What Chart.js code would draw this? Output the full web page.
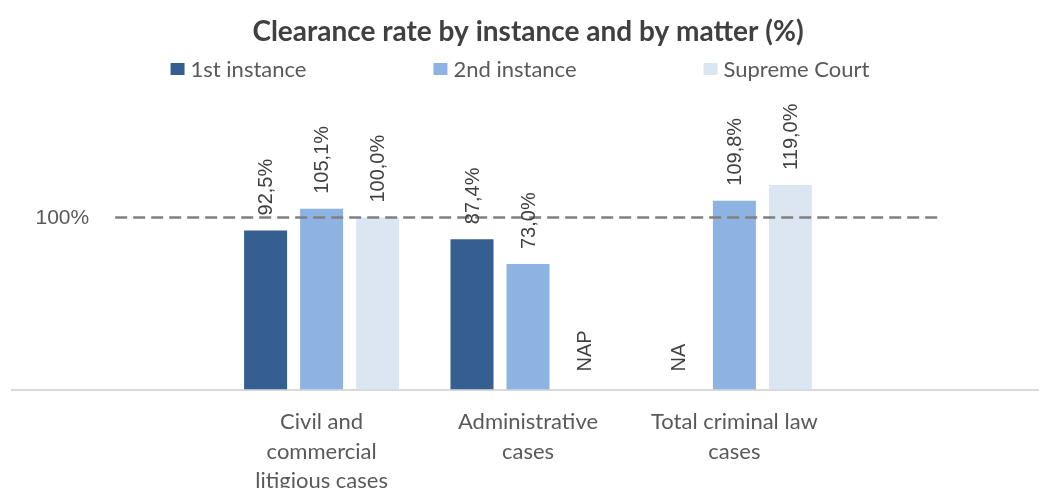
<!DOCTYPE html>
<html>
<head>
<meta charset="utf-8">
<script src="https://cdn.jsdelivr.net/npm/chart.js@4"></script>
<style>
  html, body { margin: 0; padding: 0; background: #ffffff; overflow: hidden; }
  #wrap { width: 1046px; height: 514px; position: relative; }
</style>
</head>
<body>
<div id="wrap"><canvas id="c"></canvas></div>
<script>
// ---- data ----
const categories = ['', ['Civil and', 'commercial', 'litigious cases'], ['Administrative', 'cases'], ['Total criminal law', 'cases'], ''];
const seriesNames = ['1st instance', '2nd instance', 'Supreme Court'];
const firstInstance = [null, 92.5, 87.4, null, null];
const secondInstance = [null, 105.1, 73.0, 109.8, null];
const supremeCourt = [null, 100.0, null, 119.0, null];
const firstInstanceNotes = ['', '', '', 'NA', ''];
const secondInstanceNotes = ['', '', '', '', ''];
const supremeCourtNotes = ['', '', 'NAP', '', ''];
const benchmark = [100, 100, 100, 100, 100];
const benchmarkLabel = '100%';
const titleText = 'Clearance rate by instance and by matter (%)';

const fmt = v => v.toFixed(1).replace('.', ',') + '%';

const labelPlugin = {
  id: 'barLabels',
  afterDatasetsDraw(chart) {
    const ctx = chart.ctx;
    const yScale = chart.scales.y;
    const base = yScale.getPixelForValue(0);
    ctx.save();
    chart.data.datasets.forEach((ds, di) => {
      const meta = chart.getDatasetMeta(di);
      if (ds.type === 'line') {
        const p = meta.data[0];
        ctx.font = '21px "Liberation Sans"';
        ctx.fillStyle = '#595959';
        ctx.textAlign = 'right';
        ctx.textBaseline = 'middle';
        ctx.fillText(benchmarkLabel, p.x - 26, p.y + 1);
        return;
      }
      meta.data.forEach((el, i) => {
        const v = ds.data[i];
        let text, y;
        if (v === null || v === undefined) {
          text = ds.notes ? ds.notes[i] : '';
          y = base - 18;
        } else {
          text = fmt(v);
          y = el.y - 15;
        }
        if (!text) return;
        ctx.save();
        ctx.translate(el.x, y);
        ctx.rotate(-Math.PI / 2);
        ctx.font = '20px "Liberation Sans"';
        ctx.fillStyle = '#404040';
        ctx.textAlign = 'left';
        ctx.textBaseline = 'middle';
        ctx.fillText(text, 0, 1);
        ctx.restore();
      });
    });
    ctx.restore();
  }
};

// legend drawn with wide spacing like the original
const legendPlugin = {
  id: 'wideLegend',
  afterDraw(chart) {
    const ctx = chart.ctx;
    const bars = chart.data.datasets.filter(d => d.type !== 'line');
    const boxW = 14, boxH = 12, boxGap = 6, itemGap = 127, cy = 69, cx = 520;
    ctx.save();
    ctx.font = '22px Lato';
    const widths = bars.map(d => boxW + boxGap + ctx.measureText(d.label).width);
    const total = widths.reduce((a, b) => a + b, 0) + itemGap * (bars.length - 1);
    let x = cx - total / 2;
    bars.forEach((d, i) => {
      ctx.fillStyle = d.backgroundColor;
      ctx.fillRect(x, cy - boxH / 2, boxW, boxH);
      ctx.fillStyle = '#595959';
      ctx.textAlign = 'left';
      ctx.textBaseline = 'middle';
      ctx.fillText(d.label, x + boxW + boxGap, cy + 1);
      x += widths[i] + itemGap;
    });
    ctx.restore();
  }
};

new Chart(document.getElementById('c'), {
  type: 'bar',
  data: {
    labels: categories,
    datasets: [
      { type: 'line', label: 'benchmark', data: benchmark, borderColor: '#808080', borderWidth: 2.5,
        borderDash: [12, 6], pointRadius: 0, fill: false, order: 0 },
      { label: seriesNames[0], data: firstInstance, notes: firstInstanceNotes, backgroundColor: '#355f91', order: 1 },
      { label: seriesNames[1], data: secondInstance, notes: secondInstanceNotes, backgroundColor: '#8db3e2', order: 1 },
      { label: seriesNames[2], data: supremeCourt, notes: supremeCourtNotes, backgroundColor: '#dce6f2', order: 1 }
    ]
  },
  options: {
    responsive: true,
    maintainAspectRatio: false,
    animation: false,
    devicePixelRatio: 1,
    categoryPercentage: 0.814,
    barPercentage: 0.768,
    layout: { padding: { left: 12, right: 2, top: 0, bottom: 0 } },
    plugins: {
      title: { display: true, text: titleText, color: '#404040',
        font: { family: 'Lato', size: 28, weight: 'bold' }, padding: { top: 15, bottom: 52 } },
      legend: { display: false },
      tooltip: { enabled: false }
    },
    scales: {
      x: {
        offset: true,
        grid: { display: false, drawTicks: false },
        border: { color: '#d9d9d9', width: 2 },
        ticks: { color: '#595959', font: { family: 'Lato', size: 22, lineHeight: 1.34 }, maxRotation: 0, autoSkip: false, padding: 18 }
      },
      y: { display: false, min: 0, max: 168 }
    }
  },
  plugins: [labelPlugin, legendPlugin]
});
</script>
</body>
</html>
